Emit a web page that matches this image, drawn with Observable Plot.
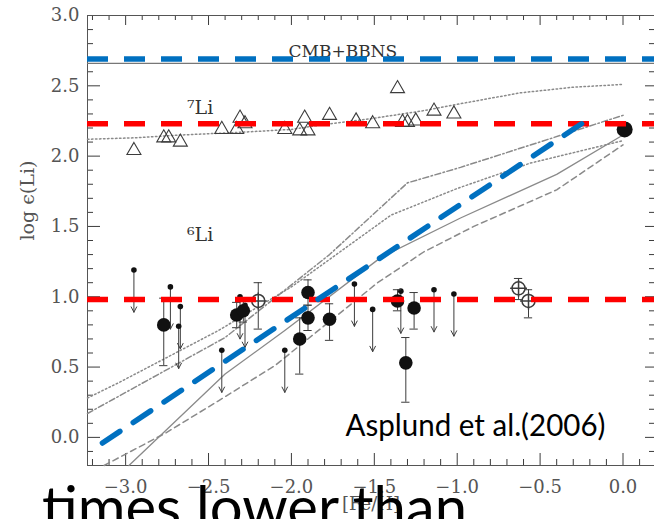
<!DOCTYPE html>
<html><head><meta charset="utf-8">
<script src="https://cdn.jsdelivr.net/npm/d3@7"></script>
<script src="https://cdn.jsdelivr.net/npm/@observablehq/plot@0.6"></script>
<style>
html,body{margin:0;padding:0;background:#fff;width:654px;height:519px;overflow:hidden;}
#wrap{position:relative;width:654px;height:519px;}
#over{position:absolute;left:0;top:0;pointer-events:none;}
</style></head><body><div id="wrap"></div>
<script>
// ---- tick values ----
const yMajor = [0.0, 0.5, 1.0, 1.5, 2.0, 2.5, 3.0];
const yMinor = [-0.1, 0.1, 0.2, 0.3, 0.4, 0.6, 0.7, 0.8, 0.9, 1.1, 1.2, 1.3, 1.4, 1.6, 1.7, 1.8, 1.9, 2.1, 2.2, 2.3, 2.4, 2.6, 2.7, 2.8, 2.9];
const xMajor = [-3.0, -2.5, -2.0, -1.5, -1.0, -0.5, 0.0];
const xMinor = [-3.2, -3.1, -2.9, -2.8, -2.7, -2.6, -2.4, -2.3, -2.2, -2.1, -1.9, -1.8, -1.7, -1.6, -1.4, -1.3, -1.2, -1.1, -0.9, -0.8, -0.7, -0.6, -0.4, -0.3, -0.2, -0.1, 0.1];

// ---- 7Li abundances (open triangles) ----
const li7X = [-2.95, -2.77, -2.74, -2.67, -2.42, -2.33, -2.31, -2.28, -2.04, -1.95, -1.92, -1.90, -1.77, -1.61, -1.51, -1.36, -1.33, -1.30, -1.25, -1.14, -1.02];
const li7Y = [2.04, 2.13, 2.13, 2.10, 2.19, 2.19, 2.27, 2.23, 2.19, 2.18, 2.27, 2.18, 2.29, 2.25, 2.23, 2.48, 2.24, 2.24, 2.25, 2.32, 2.30];

// ---- meteoritic / solar point ----
const sunX = [0.01];
const sunY = [2.19];

// ---- 6Li detections (filled circles with error bars) ----
const li6X  = [-2.77, -2.33, -2.29, -1.90, -1.90, -1.95, -1.77, -1.36, -1.26, -1.31];
const li6Y  = [0.80, 0.87, 0.90, 1.03, 0.85, 0.70, 0.84, 0.97, 0.92, 0.53];
const li6Lo = [0.51, 0.78, 0.82, 0.94, 0.76, 0.45, 0.69, 0.90, 0.77, 0.25];
const li6Hi = [0.99, 0.96, 0.98, 1.12, 0.94, 0.85, 0.95, 1.05, 1.03, 0.71];

// ---- 6Li upper limits (arrows) ----
const ulX = [-2.95, -2.73, -2.67, -2.68, -2.42, -2.31, -2.28, -2.04, -1.62, -1.51, -1.34, -1.14, -1.02];
const ulY = [1.19, 1.07, 0.93, 0.79, 0.62, 1.00, 0.94, 0.62, 1.09, 0.91, 1.04, 1.05, 1.02];
const ulDrop = 0.3;

// ---- other 6Li data (open circles with cross) ----
const ocX  = [-2.20, -0.63, -0.57];
const ocY  = [0.97, 1.06, 0.97];
const ocLo = [0.77, 0.98, 0.85];
const ocHi = [1.10, 1.13, 1.05];

// ---- model curves ----
const m7X = [-3.23, -2.95, -2.67, -2.30, -2.00, -1.83, -1.50, -1.22, -0.90, -0.62, -0.30, 0.00];
const m7Y = [2.12, 2.13, 2.15, 2.17, 2.19, 2.22, 2.27, 2.32, 2.39, 2.45, 2.49, 2.51];
const mDotX = [-3.23, -3.04, -2.44, -2.00, -1.40, -1.00, -0.56, 0.00];
const mDotY = [0.28, 0.39, 0.76, 1.07, 1.58, 1.77, 1.95, 2.11];
const mDashDotX = [-3.23, -2.40, -1.77, -1.30, -0.98, 0.00];
const mDashDotY = [0.17, 0.71, 1.30, 1.81, 1.92, 2.29];
const mSolidX = [-2.98, -2.40, -2.04, -1.46, -0.98, -0.40, 0.00];
const mSolidY = [-0.20, 0.45, 0.76, 1.28, 1.56, 1.87, 2.15];
const mDashX = [-3.13, -2.76, -2.44, -2.10, -1.48, -1.20, -0.90, -0.40, 0.00];
const mDashY = [-0.20, 0.03, 0.26, 0.51, 1.10, 1.32, 1.50, 1.76, 2.08];

// ---- reference levels (overlay) ----
const cmbLevel = [2.69];
const grayLevel = [2.66];
const redLevels = [2.23, 0.98];
const blueDiagX = [-3.14, -0.25];
const blueDiagY = [-0.04, 2.23];

// ---- texts ----
const yLabel = "log ϵ(Li)";
const xLabel = "[Fe/H]";
const cmbText = {x: -1.69, y: 2.745, t: "CMB+BBNS"};
const li7Text = {x: -2.63, y: 2.345, t: "⁷Li"};
const li6Text = {x: -2.63, y: 1.44, t: "⁶Li"};
const refText = {x: -0.89, y: 0.08, t: "Asplund et al.(2006)"};
const bigText = "times lower than";

// ---- build tables ----
const zip = (xs, ys) => xs.map((x, i) => ({x, y: ys[i]}));
const li7 = zip(li7X, li7Y);
const sun = zip(sunX, sunY);
const li6 = li6X.map((x, i) => ({x, y: li6Y[i], lo: li6Lo[i], hi: li6Hi[i]}));
const ul = zip(ulX, ulY);
const oc = ocX.map((x, i) => ({x, y: ocY[i], lo: ocLo[i], hi: ocHi[i]}));
const m7 = zip(m7X, m7Y), mDot = zip(mDotX, mDotY), mDashDot = zip(mDashDotX, mDashDotY),
      mSolid = zip(mSolidX, mSolidY), mDash = zip(mDashX, mDashY), blueDiag = zip(blueDiagX, blueDiagY);

const W = 654, H = 519, ML = 87, MR = 0, MT = 15, MB = 54;
const PW = W - ML - MR, PH = H - MT - MB;
const serif = "DejaVu Serif";
const ink = "#3c3c3c";
const model = "#8a8a8a";
const blue = "#0070C0", red = "#FF0000";
const capW = 0.025;
const fmt = d3.format(".1f");

const chart = Plot.plot({
  width: W, height: H,
  marginLeft: ML, marginRight: MR, marginTop: MT, marginBottom: MB,
  x: {domain: [-3.23, 0.19]},
  y: {domain: [-0.2, 3.0]},
  style: {background: "white", fontFamily: serif, overflow: "visible"},
  marks: [
    Plot.axisY({ticks: yMajor, tickSize: 0, tickPadding: 8, tickFormat: fmt, fontSize: 18, fontFamily: serif, color: "#555", label: null}),
    Plot.axisX({ticks: xMajor, tickSize: 0, tickPadding: 15, tickFormat: fmt, fontSize: 18, fontFamily: serif, color: "#555", label: null}),
    // inward ticks
    Plot.tickY(yMajor, {insetRight: PW - 13, stroke: ink}),
    Plot.tickY(yMinor, {insetRight: PW - 6, stroke: ink}),
    Plot.tickY(yMajor, {insetLeft: PW - 9, stroke: ink}),
    Plot.tickY(yMinor, {insetLeft: PW - 5, stroke: ink}),
    Plot.tickX(xMajor, {insetTop: PH - 12, stroke: ink}),
    Plot.tickX(xMinor, {insetTop: PH - 6, stroke: ink}),
    Plot.tickX(xMajor, {insetBottom: PH - 10, stroke: ink}),
    Plot.tickX(xMinor, {insetBottom: PH - 5, stroke: ink}),
    Plot.frame({stroke: "#555"}),
    // axis titles
    Plot.text([yLabel], {frameAnchor: "left", dx: -60, rotate: -90, fontSize: 19, fontFamily: serif, fill: "#555"}),
    Plot.text([xLabel], {frameAnchor: "bottom", dy: 44, fontSize: 18, fontFamily: serif, fill: "#555"}),
    // CMB level (thin gray)
    Plot.ruleY(grayLevel, {stroke: "#777", strokeWidth: 1.3}),
    // models
    Plot.line(m7, {x: "x", y: "y", stroke: model, strokeDasharray: "1.5,2.5"}),
    Plot.line(mDot, {x: "x", y: "y", stroke: model, strokeDasharray: "1.5,2.5"}),
    Plot.line(mDashDot, {x: "x", y: "y", stroke: model, strokeDasharray: "6,2.5,1.5,2.5"}),
    Plot.line(mSolid, {x: "x", y: "y", stroke: model, strokeWidth: 1.3}),
    Plot.line(mDash, {x: "x", y: "y", stroke: model, strokeDasharray: "6,4"}),
    // labels inside
    Plot.text([cmbText], {x: "x", y: "y", text: "t", fontSize: 17, fontFamily: serif, fill: "#333"}),
    Plot.text([li7Text, li6Text], {x: "x", y: "y", text: "t", textAnchor: "start", fontSize: 19, fontFamily: serif, fill: "#333"}),
    // 7Li triangles
    Plot.dot(li7, {x: "x", y: "y", symbol: "triangle", r: 5.2, stroke: ink, fill: "none", strokeWidth: 1.1}),
    // upper limits
    Plot.arrow(ul, {x: "x", y1: "y", y2: d => d.y - ulDrop, stroke: ink, strokeWidth: 1, headLength: 9, headAngle: 55}),
    Plot.dot(ul, {x: "x", y: "y", r: 2.8, fill: "#111"}),
    // open circles with cross
    Plot.ruleX(oc, {x: "x", y1: "lo", y2: "hi", stroke: ink}),
    Plot.ruleY(oc, {y: "lo", x1: d => d.x - capW, x2: d => d.x + capW, stroke: ink}),
    Plot.ruleY(oc, {y: "hi", x1: d => d.x - capW, x2: d => d.x + capW, stroke: ink}),
    Plot.dot(oc, {x: "x", y: "y", r: 6.5, stroke: ink, fill: "white"}),
    Plot.dot(oc, {x: "x", y: "y", symbol: "plus", r: 5.5, stroke: ink}),
    // detections
    Plot.ruleX(li6, {x: "x", y1: "lo", y2: "hi", stroke: ink}),
    Plot.ruleY(li6, {y: "lo", x1: d => d.x - capW, x2: d => d.x + capW, stroke: ink}),
    Plot.ruleY(li6, {y: "hi", x1: d => d.x - capW, x2: d => d.x + capW, stroke: ink}),
    Plot.dot(li6, {x: "x", y: "y", r: 6.8, fill: "#111"}),
    Plot.dot(sun, {x: "x", y: "y", r: 8, fill: "#111"}),
    // overlay reference lines
    Plot.ruleY(redLevels, {stroke: red, strokeWidth: 5.5, strokeDasharray: "21,16"}),
    Plot.ruleY(cmbLevel, {stroke: blue, strokeWidth: 5.5, strokeDasharray: "21,16"}),
    Plot.line(blueDiag, {x: "x", y: "y", stroke: blue, strokeWidth: 5.5, strokeDasharray: "21,16"}),
    // annotation
    Plot.text([refText], {x: "x", y: "y", text: "t", fontSize: 30, fontFamily: "Lato, 'Open Sans', sans-serif", fill: "#000"})
  ]
});

const wrap = document.getElementById("wrap");
wrap.appendChild(chart);
d3.select(chart).selectAll("text").filter(function () { return this.textContent === refText.t; })
  .attr("textLength", 260).attr("lengthAdjust", "spacingAndGlyphs");

const over = d3.select(wrap).append("svg").attr("id", "over").attr("width", W).attr("height", H);
over.append("text").attr("x", 42).attr("y", 528)
  .attr("font-family", "Lato, 'Open Sans', sans-serif").attr("font-size", 58)
  .attr("textLength", 425).attr("lengthAdjust", "spacingAndGlyphs")
  .attr("fill", "#000").text(bigText);
</script></body></html>
